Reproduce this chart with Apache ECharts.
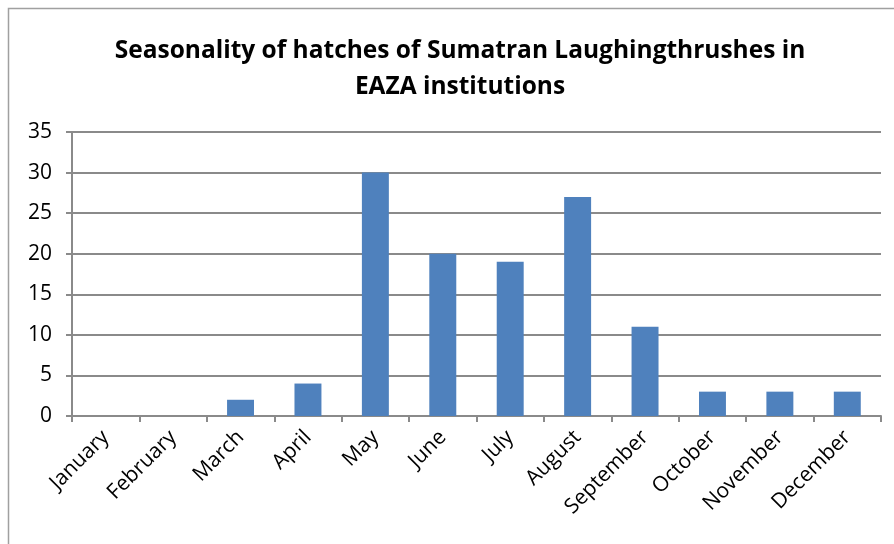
<!DOCTYPE html>
<html>
<head>
<meta charset="utf-8">
<script src="https://cdn.jsdelivr.net/npm/echarts@6/dist/echarts.min.js"></script>
<style>
  html, body { margin: 0; padding: 0; background: #fff; }
  #chart { width: 894px; height: 544px; }
</style>
</head>
<body>
<div id="chart"></div>
<script>
const months = ["January", "February", "March", "April", "May", "June",
  "July", "August", "September", "October", "November", "December"];
const hatches = [0, 0, 2, 4, 30, 20, 19, 27, 11, 3, 3, 3];

const chart = echarts.init(document.getElementById("chart"));
const font = "'Open Sans', 'Liberation Sans', sans-serif";

chart.setOption({
  animation: false,
  title: {
    text: "Seasonality of hatches of Sumatran Laughingthrushes in\nEAZA institutions",
    left: 455,
    textAlign: "center",
    top: 28,
    textStyle: { fontFamily: font, fontSize: 24.5, fontWeight: "bold", color: "#000", lineHeight: 36 },
  },
  graphic: [{
    type: "rect",
    shape: { x: 8.5, y: 8.5, width: 900, height: 600 },
    style: { fill: "none", stroke: "#a0a0a0", lineWidth: 1.5 },
  }],
  grid: { left: 72, right: 13, top: 132, bottom: 128 },
  xAxis: {
    type: "category",
    data: months,
    axisLine: { lineStyle: { color: "#8a8a8a", width: 2 } },
    axisTick: { show: true, length: 6, lineStyle: { color: "#8a8a8a", width: 2 } },
    axisLabel: { rotate: 45, fontFamily: font, fontSize: 21, color: "#000", margin: 18 },
  },
  yAxis: {
    type: "value",
    min: 0,
    max: 35,
    interval: 5,
    axisLine: { show: true, lineStyle: { color: "#8a8a8a", width: 2 } },
    axisTick: { show: true, length: 6, lineStyle: { color: "#8a8a8a", width: 2 } },
    axisLabel: { fontFamily: font, fontSize: 21, color: "#000", margin: 20 },
    splitLine: { lineStyle: { color: "#8a8a8a", width: 2 } },
  },
  series: [{
    type: "bar",
    data: hatches,
    barWidth: "40%",
    itemStyle: { color: "#4F81BD" },
  }],
});
</script>
</body>
</html>
